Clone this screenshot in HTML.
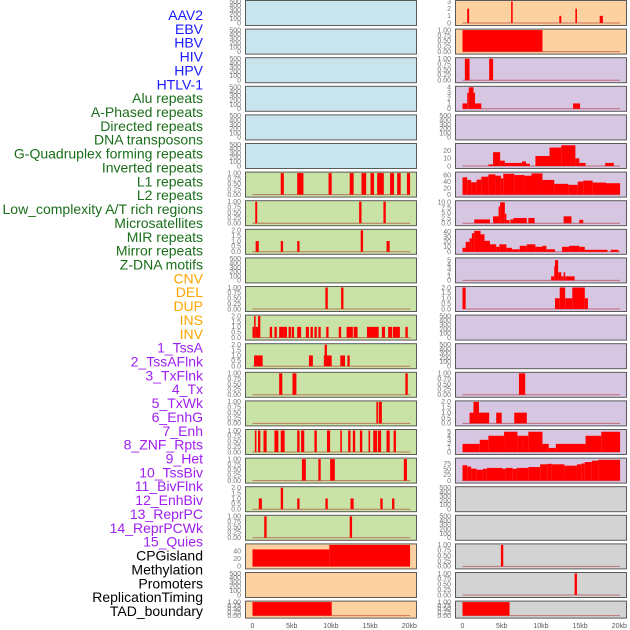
<!DOCTYPE html>
<html><head><meta charset="utf-8"><style>
html,body{margin:0;padding:0;background:#fff;width:630px;height:630px;overflow:hidden}
svg{display:block;font-family:"Liberation Sans",sans-serif}
</style></head><body>
<svg id="chart" width="630" height="630" xmlns="http://www.w3.org/2000/svg"></svg>
<script>
const trackNames = ["AAV2","EBV","HBV","HIV","HPV","HTLV-1","Alu repeats","A-Phased repeats","Directed repeats","DNA transposons","G-Quadruplex forming repeats","Inverted repeats","L1 repeats","L2 repeats","Low_complexity A/T rich regions","Microsatellites","MIR repeats","Mirror repeats","Z-DNA motifs","CNV","DEL","DUP","INS","INV","1_TssA","2_TssAFlnk","3_TxFlnk","4_Tx","5_TxWk","6_EnhG","7_Enh","8_ZNF_Rpts","9_Het","10_TssBiv","11_BivFlnk","12_EnhBiv","13_ReprPC","14_ReprPCWk","15_Quies","CPGisland","Methylation","Promoters","ReplicationTiming","TAD_boundary"];
const trackColors = ["#1a1aff","#1a1aff","#1a1aff","#1a1aff","#1a1aff","#1a1aff","#1a6e1a","#1a6e1a","#1a6e1a","#1a6e1a","#1a6e1a","#1a6e1a","#1a6e1a","#1a6e1a","#1a6e1a","#1a6e1a","#1a6e1a","#1a6e1a","#1a6e1a","#ffa500","#ffa500","#ffa500","#ffa500","#ffa500","#a020f0","#a020f0","#a020f0","#a020f0","#a020f0","#a020f0","#a020f0","#a020f0","#a020f0","#a020f0","#a020f0","#a020f0","#a020f0","#a020f0","#a020f0","#000","#000","#000","#000","#000"];
const xTicks = [0,5,10,15,20];
const xTickLabels = ["0","5kb","10kb","15kb","20kb"];
const leftBg = ["b","b","b","b","b","b","g","g","g","g","g","g","g","g","g","g","g","g","g","p","p","p"];
const rightBg = ["p","p","v","v","v","v","v","v","v","v","v","v","v","v","v","v","v","y","y","y","y","y"];
const leftYMax = [500,500,500,500,500,500,1,1,2,500,1,2,2,1,1,1,1,2,1,57,500,1];
const rightYMax = [3,1,1,4,500,28,66,10.3,43,5.3,2,500,500,1,2,5.3,95,500,500,1,1,1];
const T500=["0","100","200","300","400","500"], T1=["0.00","0.25","0.50","0.75","1.00"], T2=["0.0","0.5","1.0","1.5","2.0"];
const leftYTicks = [T500,T500,T500,T500,T500,T500,T1,T1,T2,T500,T1,T2,T2,T1,T1,T1,T1,T2,T1,["0","20","40"],T500,T1];
const rightYTicks = [["0","1","2","3"],T1,T1,["0","1","2","3","4"],T500,["0","10","20"],["0","20","40","60"],["0.0","2.5","5.0","7.5","10.0"],["0","10","20","30","40"],["0","1","2","3","4","5"],T2,T500,T500,T1,T2,["0","1","2","3","4","5"],["0","25","50","75"],T500,T500,T1,T1,T1];
const leftSegs = [[],[],[],[],[],[],
[[3.6,4.0,1],[5.7,6.5,1],[9.7,10.1,1],[12.4,12.9,1],[13.9,14.5,1],[15.05,15.5,1],[15.9,16.75,1],[17.55,18.05,1],[18.45,18.9,1],[19.7,20.1,1]],
[[0.35,0.6,1],[13.6,13.9,1],[16.7,17.0,1]],
[[0.4,0.8,1],[3.6,3.9,1],[5.7,6.0,1],[13.8,14.1,2],[17.1,17.5,1]],
[],
[[9.3,9.6,1],[11.3,11.6,1]],
[[0.0,0.2,1],[0.2,0.4,2],[0.4,0.7,1],[0.7,1.0,2],[2.2,2.5,1],[2.8,3.1,1],[3.4,3.9,1],[3.9,4.4,1],[4.6,4.9,1],[5.0,5.3,1],[5.7,6.2,1],[6.8,7.2,1],[7.4,7.7,1],[7.9,8.2,1],[8.4,8.7,1],[9.4,9.7,1],[11.0,11.3,1],[12.0,12.8,1],[12.9,13.4,1],[14.6,16.1,1],[16.5,16.9,1],[17.3,17.8,1],[17.9,18.8,1],[19.5,19.8,1]],
[[0.2,1.3,1],[7.2,7.7,1],[9.1,9.2,1],[9.2,9.5,2],[9.5,10.1,1],[11.2,11.8,1],[12.1,12.4,1]],
[[3.4,3.8,1],[5.1,5.6,1],[19.5,19.8,1]],
[[15.8,16.0,1],[16.1,16.5,1]],
[[0.3,0.5,1],[0.7,1.0,1],[1.4,1.8,1],[2.8,3.3,1],[3.6,4.1,1],[5.7,6.0,1],[6.2,6.6,1],[7.9,8.2,1],[9.5,9.9,1],[11.2,11.4,1],[12.2,12.5,1],[12.8,13.1,1],[13.7,14.0,1],[14.8,15.0,1],[15.4,15.9,1],[16.0,16.4,1],[17.1,17.5,1],[18.0,18.3,1]],
[[6.3,6.8,1],[8.4,8.7,1],[9.9,10.5,1],[19.3,19.7,1]],
[[0.8,1.2,1],[3.6,3.9,2],[5.7,6.0,1],[9.3,9.6,1],[12.5,12.9,1],[16.3,16.6,1],[17.8,18.1,1]],
[[1.5,1.8,1],[12.4,12.7,1]],
[[0,9.8,45],[9.8,20.1,57]],
[],
[[0,10.1,1]]];
const rightSegs = [
[[0.6,0.85,2],[6.2,6.4,3],[12.35,12.6,1],[14.4,14.6,2],[17.5,17.9,1]],
[[0,10.2,1]],
[[0.3,0.9,1],[3.4,3.9,1]],
[[0,0.6,1],[0.6,0.8,3],[0.8,1.4,4],[1.4,1.6,3],[1.6,2.4,1],[14.1,15.0,1]],
[],
[[3.3,3.9,2],[3.9,4.8,18],[4.8,5.4,7],[5.4,7.6,4],[7.6,8.1,6],[8.1,8.6,3],[9.3,11.1,13],[11.1,12.6,24],[12.6,14.4,27],[14.4,14.9,10],[14.9,15.7,4],[18.2,19.3,4]],
[[0,0.6,53],[0.6,1.1,45],[1.1,1.8,38],[1.8,2.4,46],[2.4,3.3,55],[3.3,4.2,62],[4.2,4.9,58],[4.9,5.2,50],[5.2,6.6,64],[6.6,7.9,60],[7.9,8.8,58],[8.8,10.2,65],[10.2,11.7,45],[11.7,13.5,33],[13.5,14.7,30],[14.7,15.4,40],[15.4,16.6,43],[16.6,18.3,37],[18.3,20.1,35]],
[[1.5,3.5,1.8],[3.9,4.6,3.3],[4.6,4.8,8],[4.8,5.4,10],[5.4,5.6,4.5],[5.6,6.0,1.5],[6.1,6.5,1.8],[6.5,8.2,2.5],[8.4,9.2,2.5],[12.9,13.9,3.3],[14.9,15.4,1.6]],
[[0,0.4,8],[0.4,0.9,20],[0.9,1.2,27],[1.2,1.5,37],[1.5,2.3,42],[2.3,2.8,35],[2.8,3.5,22],[3.5,4.3,15],[4.3,4.7,10],[4.7,5.6,15],[5.6,6.3,8],[6.3,7.3,5],[7.3,8.2,12],[8.2,9.3,15],[9.3,10.2,10],[10.2,10.7,12],[10.7,11.8,5],[12.7,13.6,10],[13.6,14.9,12],[14.9,15.6,10],[15.6,18.5,4],[18.9,19.9,4]],
[[11.3,11.7,1],[11.7,11.8,3.5],[11.8,12.2,5],[12.2,12.6,2],[12.6,12.9,1],[12.9,13.1,2],[13.1,14.3,1]],
[[0,0.4,2],[11.8,12.4,1],[12.4,13.1,2],[13.1,14.0,1],[14.0,15.6,2],[15.6,16.0,1]],
[],[],
[[7.2,8.0,1]],
[[0.9,1.4,1],[1.4,2.1,2],[2.1,3.4,1],[4.3,5.0,1],[6.6,8.2,1]],
[[0,2.2,2],[2.2,3.3,3],[3.3,5.3,4],[5.3,7.0,5],[7.0,7.6,4],[7.6,8.4,4],[8.4,10.2,5],[10.2,11.0,2],[11.0,11.9,1],[11.9,15.7,2],[15.7,17.7,4],[17.7,20.1,5]],
[[0,0.6,68],[0.6,1.1,62],[1.1,1.8,53],[1.8,2.6,48],[2.6,3.1,52],[3.1,5.1,56],[5.1,5.5,52],[5.5,6.4,56],[6.4,6.9,52],[6.9,8.4,56],[8.4,9.9,60],[9.9,10.8,72],[10.8,11.4,74],[11.4,13.0,72],[13.0,14.6,66],[14.6,15.2,72],[15.2,15.6,76],[15.6,16.5,82],[16.5,17.3,88],[17.3,20.1,92]],
[],[],
[[4.9,5.2,1]],
[[14.3,14.6,1]],
[[0,6.0,1]]];

const bgColors = {b:"#c8e4ec",g:"#c9e2a5",p:"#fdd2a0",v:"#d6c6e2",y:"#d3d3d3"};
const NS = "http://www.w3.org/2000/svg";
const svg = document.getElementById("chart");
function mk(tag, attrs, parent){const e=document.createElementNS(NS,tag);for(const k in attrs)e.setAttribute(k,attrs[k]);(parent||svg).appendChild(e);return e;}

trackNames.forEach((n,i)=>{
  const t = mk("text",{x:203,y:20+i*13.86,"text-anchor":"end","font-size":"14",fill:trackColors[i]});
  t.textContent = n;
  
  
});

function rowTop(r){return r*28.6;}
function rowH(r){return r===21?17:25;}

function drawPanel(col, r, bg, ymax, ticks, segs){
  const px = col===0?245:455;
  const x0 = px+7.5;
  const xs = kb => x0 + kb*7.84;
  const top = rowTop(r), h = rowH(r);
  const yb = top+h-2, yt = top+1.5;
  const ys = v => yb - (v/ymax)*(yb-yt);
  const g = mk("g",{});
  
  
  const rect = mk("rect",{x:px+0.5,y:top+0.5,width:171,height:h,fill:bgColors[bg],stroke:"#5a5a5a","stroke-width":1},g);
  
  
  const n = ticks.length;
  const tickMax = ymax===57?40:ymax===28?20:ymax===66?60:ymax===10.3?10:ymax===43?40:ymax===5.3?5:ymax===95?75:ymax;
  ticks.forEach((lab,k)=>{
    const v = tickMax*k/(n-1);
    const t = mk("text",{x:col===0?241:451,y:ys(v)+2.3,"text-anchor":"end","font-size":"7",fill:"#777"},g);
    t.textContent = lab;
    
    
  });
  if(segs.length){
    const bl = mk("line",{x1:xs(0),x2:xs(20.1),y1:yb,y2:yb,stroke:"#b03030","stroke-width":1,"stroke-opacity":0.6},g);
    
    
  }
  segs.forEach(s=>{
    const b = mk("rect",{x:xs(s[0]),y:ys(s[2]),width:Math.max(1,xs(s[1])-xs(s[0])),height:yb-ys(s[2]),fill:"#ff0000"},g);
    
    
  });
  if(r===21){
    xTicks.forEach((k,i)=>{
      const t = mk("text",{x:xs(k),y:628,"text-anchor":"middle","font-size":"7",fill:"#555"});
      t.textContent = xTickLabels[i];
      
      
    });
  }
}
for(let r=0;r<22;r++){
  drawPanel(0,r,leftBg[r],leftYMax[r],leftYTicks[r],leftSegs[r]);
  drawPanel(1,r,rightBg[r],rightYMax[r],rightYTicks[r],rightSegs[r]);
}
</script>
</body></html>
